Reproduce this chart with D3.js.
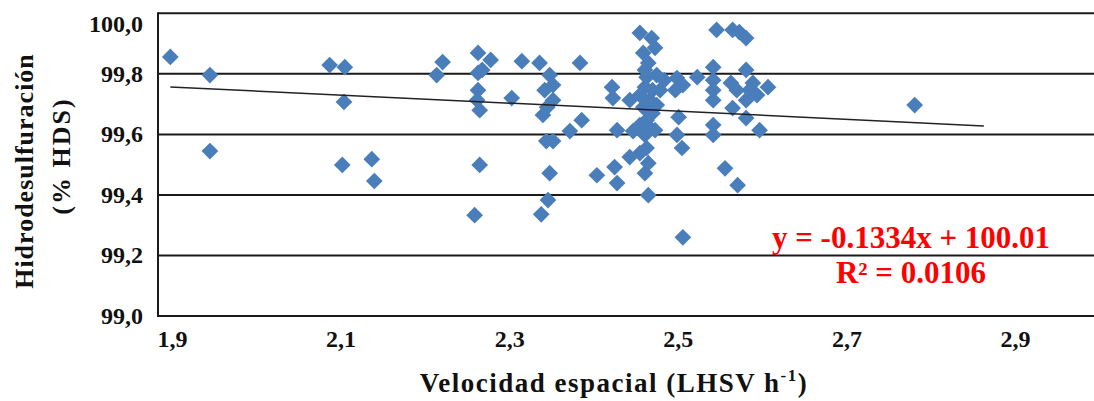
<!DOCTYPE html>
<html>
<head>
<meta charset="utf-8">
<script src="https://cdn.jsdelivr.net/npm/d3@7"></script>
<style>
  body { margin: 0; background: #fff; }
  svg { display: block; }
</style>
</head>
<body>
<script>
// velocidad espacial (LHSV) of each sample
var lhsv = [
  1.898, 1.945, 1.945, 2.087, 2.105, 2.104, 2.102, 2.137, 2.140,
  2.221, 2.214, 2.263, 2.278, 2.268, 2.263, 2.263, 2.262, 2.265, 2.265, 2.259,
  2.303, 2.315, 2.336, 2.348, 2.352, 2.342, 2.352, 2.340, 2.345, 2.344, 2.352,
  2.348, 2.346, 2.338,
  2.384, 2.372, 2.386, 2.422, 2.423, 2.443, 2.428, 2.447, 2.404, 2.425, 2.428,
  2.443, 2.455, 2.463, 2.461, 2.465, 2.465,
  2.455, 2.469, 2.459, 2.465, 2.461, 2.463, 2.461, 2.470, 2.467, 2.459, 2.470,
  2.463, 2.467, 2.461, 2.479, 2.473, 2.475, 2.455, 2.475, 2.455, 2.484, 2.473,
  2.499, 2.506, 2.497, 2.523, 2.501, 2.499, 2.505, 2.506,
  2.546, 2.565, 2.573, 2.581, 2.542, 2.542, 2.542, 2.542, 2.563, 2.581, 2.570,
  2.585, 2.594, 2.607, 2.589, 2.581, 2.565, 2.581, 2.542, 2.542, 2.597, 2.556,
  2.571,
  2.781
];
// hidrodesulfuración (% HDS) of each sample
var hds = [
  99.856, 99.796, 99.545, 99.829, 99.822, 99.707, 99.499, 99.518, 99.446,
  99.839, 99.796, 99.869, 99.846, 99.813, 99.803, 99.746, 99.713, 99.680, 99.499, 99.333,
  99.720, 99.842, 99.836, 99.796, 99.763, 99.746, 99.713, 99.664, 99.690, 99.578, 99.578,
  99.472, 99.383, 99.336,
  99.836, 99.611, 99.647, 99.756, 99.720, 99.713, 99.614, 99.611, 99.465, 99.492, 99.439,
  99.525, 99.538, 99.555, 99.472, 99.399, 99.505,
  99.935, 99.918, 99.869, 99.836, 99.813, 99.789, 99.756, 99.746, 99.713, 99.690, 99.670,
  99.647, 99.621, 99.598, 99.746, 99.886, 99.796, 99.730, 99.697, 99.631, 99.779, 99.614,
  99.786, 99.763, 99.746, 99.789, 99.657, 99.598, 99.555, 99.260,
  99.945, 99.945, 99.938, 99.918, 99.822, 99.779, 99.746, 99.713, 99.770, 99.813, 99.746,
  99.746, 99.730, 99.756, 99.770, 99.713, 99.687, 99.654, 99.631, 99.598, 99.614, 99.488,
  99.432,
  99.697
];

var xTicks = [1.9, 2.1, 2.3, 2.5, 2.7, 2.9];
var yTicks = [99.0, 99.2, 99.4, 99.6, 99.8, 100.0];

// linear trendline y = slope*x + intercept, drawn between these x values
var slope = -0.1334, intercept = 100.01;
var trendX = [1.898, 2.863];
var eqLines = ["y = -0.1334x + 100.01", "R² = 0.0106"];

var width = 1094, height = 401;
var plotLeft = 158, plotTop = 13.3, plotBottom = 316, plotRight = 1100;

var x = d3.scaleLinear().domain([1.9, 2.9]).range([172, 1015]);
var y = d3.scaleLinear().domain([99, 100]).range([plotBottom, plotTop]);

var fmt = d3.formatLocale({ decimal: ",", thousands: ".", grouping: [3], currency: ["", ""] }).format(".1f");

var svg = d3.select("body").append("svg")
  .attr("width", width)
  .attr("height", height);

// gridlines
svg.append("g")
  .selectAll("line")
  .data(yTicks)
  .enter()
  .append("line")
  .attr("x1", plotLeft)
  .attr("x2", plotRight)
  .attr("y1", function (d) { return y(d); })
  .attr("y2", function (d) { return y(d); })
  .attr("stroke", "#1a1a1a")
  .attr("stroke-width", 2);

// left border of plot area
svg.append("line")
  .attr("x1", plotLeft).attr("x2", plotLeft)
  .attr("y1", plotTop - 1).attr("y2", plotBottom + 1)
  .attr("stroke", "#1a1a1a")
  .attr("stroke-width", 2);

// Y axis labels
var yAxis = svg.append("g")
  .attr("transform", "translate(" + plotLeft + ",0)")
  .call(d3.axisLeft(y).tickValues(yTicks).tickSize(0).tickPadding(15).tickFormat(fmt));
yAxis.select(".domain").remove();
yAxis.selectAll("text")
  .style("font-family", "'Liberation Serif', 'Times New Roman', serif")
  .style("font-weight", "bold")
  .style("font-size", "24px")
  .attr("fill", "#111");
// top label sits a bit lower in the original
yAxis.selectAll(".tick")
  .attr("transform", function (d) { return "translate(0," + Math.max(y(d), 24) + ")"; });

// X axis labels
var xAxis = svg.append("g")
  .attr("transform", "translate(0," + plotBottom + ")")
  .call(d3.axisBottom(x).tickValues(xTicks).tickSize(0).tickPadding(14).tickFormat(fmt));
xAxis.select(".domain").remove();
xAxis.selectAll("text")
  .style("font-family", "'Liberation Serif', 'Times New Roman', serif")
  .style("font-weight", "bold")
  .style("font-size", "24px")
  .attr("fill", "#111");

// points
var points = lhsv.map(function (v, i) { return [v, hds[i]]; });
svg.append("g")
  .selectAll("path")
  .data(points)
  .enter()
  .append("path")
  .attr("d", d3.symbol(d3.symbolSquare, 140))
  .attr("transform", function (d) {
    return "translate(" + x(d[0]) + "," + y(d[1]) + ") rotate(45)";
  })
  .attr("fill", "#4a7ebb");

// trendline
svg.append("line")
  .attr("x1", x(trendX[0]))
  .attr("y1", y(slope * trendX[0] + intercept))
  .attr("x2", x(trendX[1]))
  .attr("y2", y(slope * trendX[1] + intercept))
  .attr("stroke", "#222")
  .attr("stroke-width", 1.5);

// equation
svg.append("g")
  .selectAll("text")
  .data(eqLines)
  .enter()
  .append("text")
  .attr("x", 911)
  .attr("y", function (d, i) { return 248 + i * 35; })
  .attr("text-anchor", "middle")
  .style("font-family", "'Liberation Serif', 'Times New Roman', serif")
  .style("font-weight", "bold")
  .style("font-size", "31px")
  .attr("fill", "#ff0000")
  .text(function (d) { return d; });

// X axis title
var xt = svg.append("text")
  .attr("x", 614)
  .attr("y", 392)
  .attr("text-anchor", "middle")
  .style("font-family", "'Liberation Serif', 'Times New Roman', serif")
  .style("font-weight", "bold")
  .style("font-size", "27px")
  .style("letter-spacing", "1.5px")
  .attr("fill", "#111");
xt.append("tspan").text("Velocidad espacial (LHSV h");
xt.append("tspan").attr("dy", -11).style("font-size", "17px").text("-1");
xt.append("tspan").attr("dy", 11).text(")");

// Y axis title (two lines)
svg.append("text")
  .attr("transform", "translate(33,171) rotate(-90)")
  .attr("text-anchor", "middle")
  .style("font-family", "'Liberation Serif', 'Times New Roman', serif")
  .style("font-weight", "bold")
  .style("font-size", "26px")
  .style("letter-spacing", "1px")
  .attr("fill", "#111")
  .text("Hidrodesulfuración");

svg.append("text")
  .attr("transform", "translate(70,156) rotate(-90)")
  .attr("text-anchor", "middle")
  .style("font-family", "'Liberation Serif', 'Times New Roman', serif")
  .style("font-weight", "bold")
  .style("font-size", "26px")
  .style("letter-spacing", "2px")
  .attr("fill", "#111")
  .text("(% HDS)");
</script>
</body>
</html>
